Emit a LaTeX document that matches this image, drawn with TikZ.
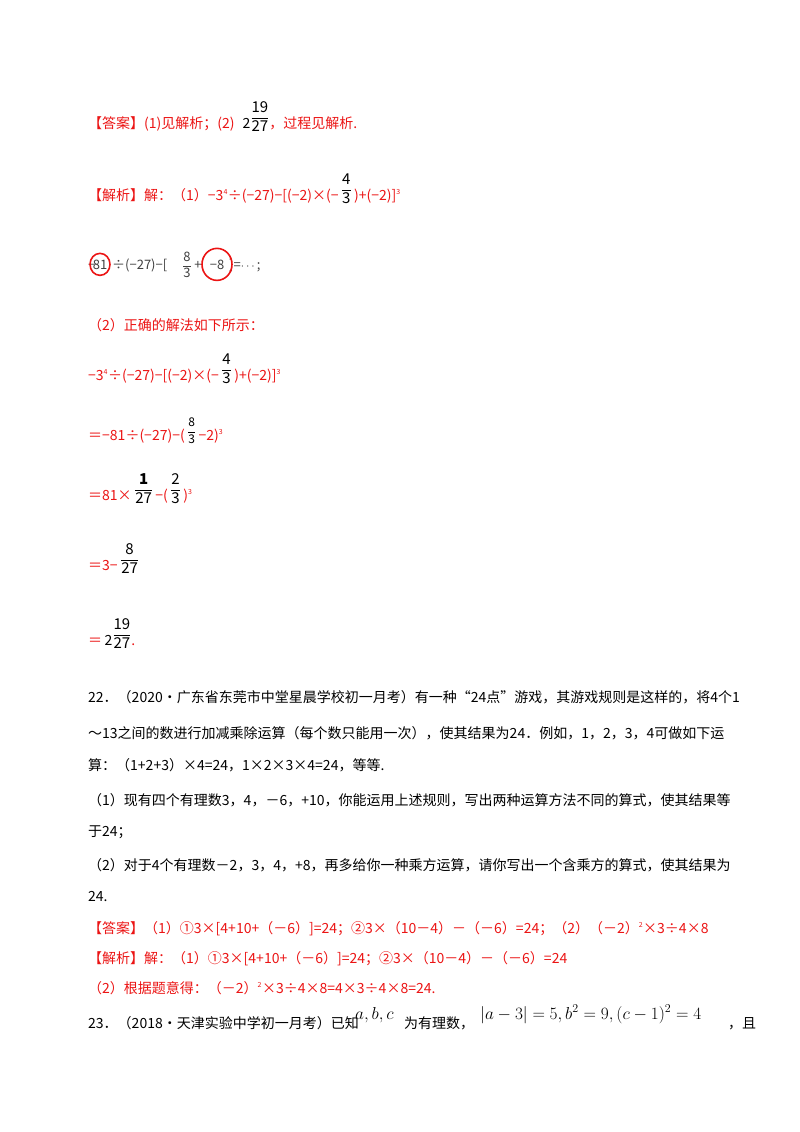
\documentclass[tikz,border=0pt]{standalone}
\usepackage{fontspec}
\usepackage{amsmath}
\setmainfont{Liberation Serif}
\newfontfamily\cjk{Noto Sans CJK SC}
\usetikzlibrary{positioning}
\definecolor{ansred}{RGB}{235,20,20}
\newcommand\upfr[2]{\raisebox{6pt}{\textcolor{black}{\fontsize{15}{16}\selectfont$\genfrac{}{}{0.6pt}{0}{\mbox{#1}}{\mbox{#2}}$}}}

\begin{document}
\begin{tikzpicture}[x=1pt,y=-1pt,
  txt/.style={anchor=base west,inner sep=0pt,font=\fontsize{14}{16}\cjk},
  red/.style={txt,text=ansred},
  scan/.style={anchor=base west,inner sep=0pt,text=black!75,font=\fontsize{13}{14}\cjk},
  ring/.style={draw=ansred,line width=1.6pt}]
\useasboundingbox (0,0) rectangle (800,1132);
% answer and first step
\node[red] (ans) at (88,128) {【答案】(1)见解析；(2)\hspace{8pt}\textcolor{black}{2}\upfr{19}{27}，过程见解析.};
\node[red] (jx) at (88,200) {【解析】解：（1）−3\textsuperscript{\scriptsize 4}÷(−27)−[(−2)×(−\,\upfr{4}{3}\,)+(−2)]\textsuperscript{\scriptsize 3}};
% scanned line
\node[scan] (s1) at (88,269) {−};
\node[scan,anchor=base] (s81) at (100,269) {81};
\node[scan] (s2) at (112,269) {÷(−27)−[};
\node[scan,anchor=center] (s83) at (187,265) {$\genfrac{}{}{0.5pt}{0}{\mbox{8}}{\mbox{3}}$};
\node[scan,anchor=base] (splus) at (198,269) {+};
\node[scan,anchor=base] (sm8) at (217,269) {−8};
\node[scan] (s3) at (229,269) {]=$\cdots$;};
\draw[ring] (s81.center) ellipse (10 and 11);
\draw[ring] (sm8.center) ellipse (15 and 16);
% part two
\node[red] (p2) at (88,330) {（2）正确的解法如下所示：};
\node[red] (l1) at (88,380) {−3\textsuperscript{\scriptsize 4}÷(−27)−[(−2)×(−\,\upfr{4}{3}\,)+(−2)]\textsuperscript{\scriptsize 3}};
\node[red] (l2) at (88,440) {＝−81÷(−27)−(\,\raisebox{5pt}{\textcolor{black}{\fontsize{12}{14}\selectfont$\genfrac{}{}{0.5pt}{0}{\mbox{8}}{\mbox{3}}$}}\,−2)\textsuperscript{\scriptsize 3}};
\node[red] (l3) at (88,500) {＝81×\,\upfr{\textbf{1}}{27}\,−(\,\upfr{2}{3}\,)\textsuperscript{\scriptsize 3}};
\node[red] (l4) at (88,570) {＝3−\,\upfr{8}{27}};
\node[red] (l5) at (88,645) {＝\,\textcolor{black}{2}\upfr{19}{27}.};
% problem 22
\node[txt] (q1) at (88,702) {22．（2020·广东省东莞市中堂星晨学校初一月考）有一种“24点”游戏，其游戏规则是这样的，将4个1};
\node[txt] (q2) at (88,738) {～13之间的数进行加减乘除运算（每个数只能用一次），使其结果为24．例如，1，2，3，4可做如下运};
\node[txt] (q3) at (88,770) {算：（1+2+3）×4=24，1×2×3×4=24，等等.};
\node[txt] (q4) at (88,805) {（1）现有四个有理数3，4，－6，+10，你能运用上述规则，写出两种运算方法不同的算式，使其结果等};
\node[txt] (q5) at (88,836) {于24；};
\node[txt] (q6) at (88,870) {（2）对于4个有理数－2，3，4，+8，再多给你一种乘方运算，请你写出一个含乘方的算式，使其结果为};
\node[txt] (q7) at (88,901) {24.};
\node[red] (a1) at (88,933) {【答案】（1）①3×[4+10+（－6）]=24；②3×（10－4）－（－6）=24；（2）（－2）\textsuperscript{\scriptsize 2}×3÷4×8};
\node[red] (a2) at (88,963) {【解析】解：（1）①3×[4+10+（－6）]=24；②3×（10－4）－（－6）=24};
\node[red] (a3) at (88,993) {（2）根据题意得：（－2）\textsuperscript{\scriptsize 2}×3÷4×8=4×3÷4×8=24.};
% problem 23
\node[txt] (b1) at (88,1028) {23．（2018·天津实验中学初一月考）已知};
\node[txt,font=\fontsize{18}{20}\selectfont] (b2) at (355,1019) {$a,b,c$};
\node[txt] (b3) at (404,1028) {为有理数，};
\node[txt,font=\fontsize{18}{20}\selectfont] (b4) at (480,1019) {$|a-3|=5,b^2=9,(c-1)^2=4$};
\node[txt] (b5) at (728,1028) {，且};
\end{tikzpicture}
\end{document}
